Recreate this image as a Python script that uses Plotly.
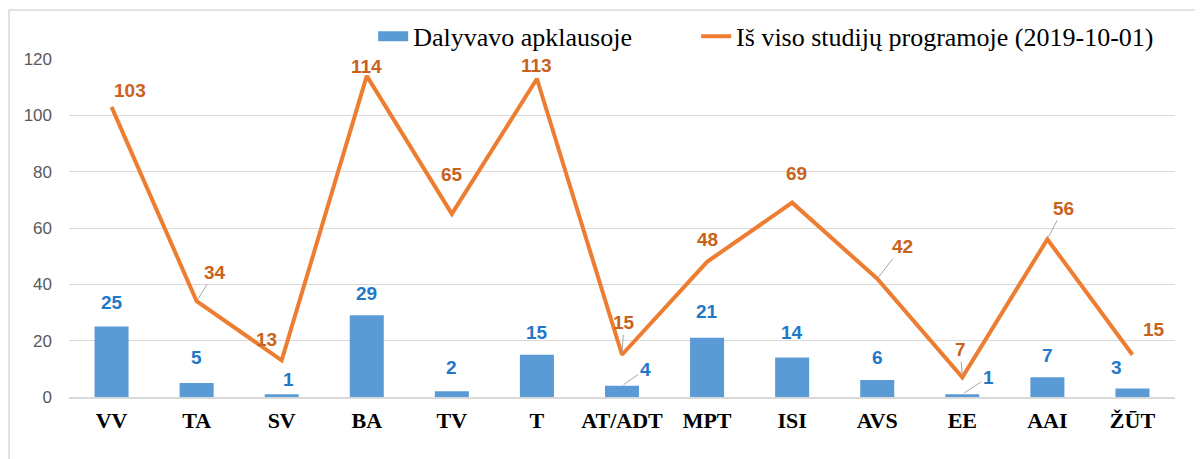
import plotly.graph_objects as go

categories = ['VV', 'TA', 'SV', 'BA', 'TV', 'T', 'AT/ADT', 'MPT', 'ISI', 'AVS', 'EE', 'AAI', 'ŽŪT']
dalyvavo = [25, 5, 1, 29, 2, 15, 4, 21, 14, 6, 1, 7, 3]
is_viso = [103, 34, 13, 114, 65, 113, 15, 48, 69, 42, 7, 56, 15]

bar_name = 'Dalyvavo apklausoje'
line_name = 'Iš viso studijų programoje (2019-10-01)'

bar_col = '#5B9BD5'
line_col = '#ED7D31'
bar_lbl_col = '#1F78C8'
line_lbl_col = '#C8621C'
leader_col = '#A6A6A6'

# label offsets in px (dx, dy up) and whether Excel drew a leader line
bar_lbl_off = [(0, 24), (0, 25), (7, 15), (0, 22), (0, 24), (0, 22), (23, 16),
               (0, 26), (0, 25), (0, 23), (26, 17), (0, 22), (-16, 21)]
bar_leader = [False, False, False, False, False, False, True,
              False, False, False, True, False, False]
line_lbl_off = [(18, 16), (18, 29), (-15, 21), (0, 9), (0, 39), (0, 13), (2, 32),
                (0, 22), (4, 29), (25, 32), (-2, 28), (16, 31), (22, 25)]
line_leader = [False, True, False, False, False, False, True,
               False, False, True, True, True, False]

lbl_font = dict(family='Liberation Sans', size=19)
leg_font = dict(family='Liberation Serif', size=26, color='#000000')

fig = go.Figure()
fig.add_trace(go.Bar(x=categories, y=dalyvavo, name=bar_name, showlegend=False,
                     marker=dict(color=bar_col, line=dict(width=0))))
# legend-only entry so the key looks like Excel's wide rectangle
fig.add_trace(go.Scatter(x=[None], y=[None], name=bar_name, mode='lines', legend='legend',
                         line=dict(color=bar_col, width=13)))
fig.add_trace(go.Scatter(x=categories, y=is_viso, name=line_name, mode='lines', legend='legend2',
                         line=dict(color=line_col, width=4)))

annotations = []
def add_labels(vals, offs, leaders, col):
    for cat, v, (dx, dy), ld in zip(categories, vals, offs, leaders):
        txt = '<b>{}</b>'.format(v)
        if ld:
            annotations.append(dict(x=cat, y=v, text=txt, showarrow=True, ax=dx, ay=-dy,
                                    arrowhead=0, arrowwidth=1, arrowcolor=leader_col, standoff=2,
                                    font=dict(color=col, **lbl_font)))
        else:
            annotations.append(dict(x=cat, y=v, text=txt, showarrow=False, xshift=dx, yshift=dy,
                                    font=dict(color=col, **lbl_font)))

add_labels(dalyvavo, bar_lbl_off, bar_leader, bar_lbl_col)
add_labels(is_viso, line_lbl_off, line_leader, line_lbl_col)

# page body has an 8px margin, so the figure is offset by 8px right and down
fig.update_layout(
    width=1203, height=459,
    margin=dict(l=61, r=36, t=51, b=70, autoexpand=False),
    paper_bgcolor='white', plot_bgcolor='white',
    bargap=0.6,
    showlegend=True,
    legend=dict(orientation='h', x=0.275, y=1.067, xanchor='left', yanchor='middle',
                font=leg_font, bgcolor='rgba(0,0,0,0)'),
    legend2=dict(orientation='h', x=0.567, y=1.067, xanchor='left', yanchor='middle',
                 font=leg_font, bgcolor='rgba(0,0,0,0)'),
    annotations=annotations,
    shapes=[dict(type='rect', xref='paper', yref='paper', x0=-0.0542, x1=1.05, y0=-0.25, y1=1.145,
                 line=dict(color='#D9D9D9', width=1.5), fillcolor='rgba(0,0,0,0)', layer='below')],
)
fig.update_yaxes(range=[0, 120], dtick=20, showgrid=True, gridcolor='#D9D9D9', gridwidth=1,
                 zeroline=False, showline=False, ticklabelstandoff=16,
                 tickfont=dict(family='Liberation Sans', size=17, color='#595959'))
fig.update_xaxes(showgrid=False, showline=True, linecolor='#D9D9D9', linewidth=1.5, ticks='',
                 ticklabelstandoff=3,
                 tickfont=dict(family='Liberation Serif', size=22, color='#000000'),
                 tickprefix='<b>', ticksuffix='</b>')

fig.write_html('out.html')
